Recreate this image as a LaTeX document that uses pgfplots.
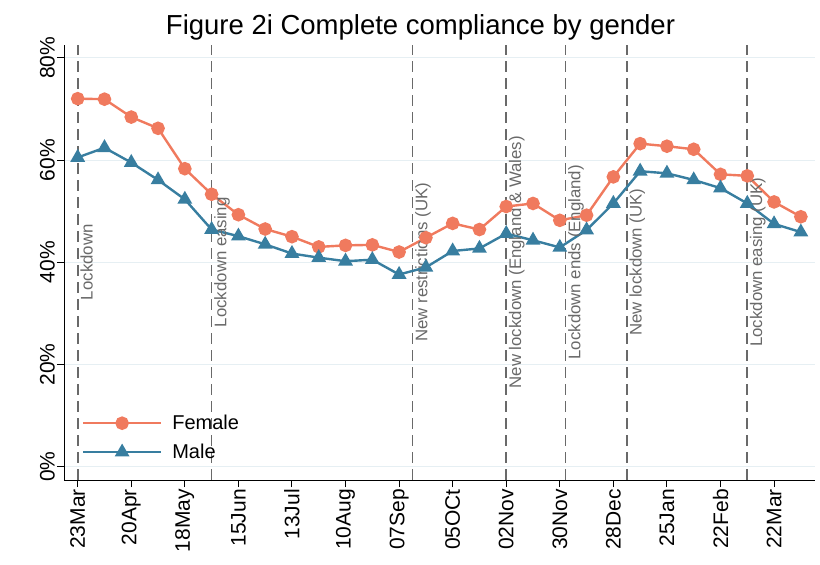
\documentclass[border=0pt]{standalone}
\usepackage{pgfplots}
\pgfplotsset{compat=1.18}
\usepackage{fontspec}
\setmainfont{Liberation Sans}
\definecolor{fem}{RGB}{240,122,94}
\definecolor{mal}{RGB}{56,126,160}
\definecolor{evgray}{RGB}{105,105,105}
\definecolor{gridc}{RGB}{230,239,243}
\newcommand{\fs}[1]{\fontsize{#1bp}{#1bp}\selectfont}
\begin{document}
\begin{tikzpicture}
\path[use as bounding box] (0,0) rectangle (820bp,565bp);
\node[anchor=base, font=\fs{27.5}] at (420.5bp,530bp) {Figure 2i Complete compliance by gender};
\begin{axis}[
  at={(64bp,85bp)}, anchor=south west,
  scale only axis, width=751bp, height=435bp,
  xmin=-7.16, xmax=385.4, ymin=-2.6, ymax=82.5,
  axis x line*=bottom, axis y line*=left,
  axis line style={-, black, line width=1bp},
  tick style={black, line width=1bp},
  major tick length=7bp, tick align=outside,
  /pgf/number format/assume math mode=true,
  xtick={0,28,56,84,112,140,168,196,224,252,280,308,336,364},
  xticklabels={23Mar,20Apr,18May,15Jun,13Jul,10Aug,07Sep,05OCt,02Nov,30Nov,28Dec,25Jan,22Feb,22Mar},
  xticklabel style={rotate=90, anchor=east, font=\fs{21}, inner sep=2bp},
  ytick={0,20,40,60,80},
  yticklabel={\pgfmathprintnumber{\tick}\%},
  yticklabel style={rotate=90, anchor=south, font=\fs{21}, inner sep=2bp},
  ymajorgrids, grid style={gridc, line width=1bp},
  legend image code/.code={\draw[mark repeat=2,mark phase=2,#1] plot coordinates {(0bp,0bp)(39bp,0bp)(78bp,0bp)};},
  legend cell align=left,
  legend style={draw=none, fill=none, font=\fs{20}, inner sep=0pt,
    at={(axis description cs:0.0236,0.154)}, anchor=north west, row sep=9bp,
    /tikz/every odd column/.append style={column sep=8bp}},
]
\pgfplotsset{evline/.style={evgray, line width=1.7bp, dash pattern=on 11bp off 6bp, forget plot}}
\addplot[evline] coordinates {(0,-2.6)(0,82.5)};
\addplot[evline] coordinates {(70,-2.6)(70,82.5)};
\addplot[evline] coordinates {(175,-2.6)(175,82.5)};
\addplot[evline] coordinates {(224,-2.6)(224,82.5)};
\addplot[evline] coordinates {(255,-2.6)(255,82.5)};
\addplot[evline] coordinates {(287,-2.6)(287,82.5)};
\addplot[evline] coordinates {(350,-2.6)(350,82.5)};
\addplot[fem, line width=2.4bp, mark=*, mark size=5.6bp, mark options={solid}] table {
x y
0 72.0
14 71.9
28 68.4
42 66.2
56 58.3
70 53.3
84 49.3
98 46.5
112 45.0
126 43.0
140 43.3
154 43.4
168 42.0
182 44.8
196 47.6
210 46.4
224 50.9
238 51.5
252 48.2
266 49.2
280 56.7
294 63.2
308 62.7
322 62.1
336 57.2
350 56.9
364 51.8
378 48.9
};
\addlegendentry{Female}
\addplot[mal, line width=2.4bp, mark=triangle*, mark size=6.2bp, mark options={solid}] table {
x y
0 60.5
14 62.4
28 59.5
42 56.1
56 52.3
70 46.4
84 45.1
98 43.5
112 41.7
126 40.9
140 40.2
154 40.5
168 37.6
182 39.0
196 42.2
210 42.7
224 45.6
238 44.3
252 42.9
266 46.3
280 51.5
294 57.8
308 57.4
322 56.1
336 54.5
350 51.5
364 47.5
378 45.9
};
\addlegendentry{Male}
\begin{scope}[every node/.style={rotate=90, anchor=north, font=\fs{16.8}, text=evgray, inner sep=2.5bp}]
\node at (axis cs:0,40) {Lockdown};
\node at (axis cs:70,40) {Lockdown easing};
\node at (axis cs:175,40) {New restrictions (UK)};
\node at (axis cs:224,40) {New lockdown (England \& Wales)};
\node at (axis cs:255,40) {Lockdown ends (England)};
\node at (axis cs:287,40) {New lockdown (UK)};
\node at (axis cs:350,40) {Lockdown easing (UK)};
\end{scope}
\end{axis}
\end{tikzpicture}
\end{document}
